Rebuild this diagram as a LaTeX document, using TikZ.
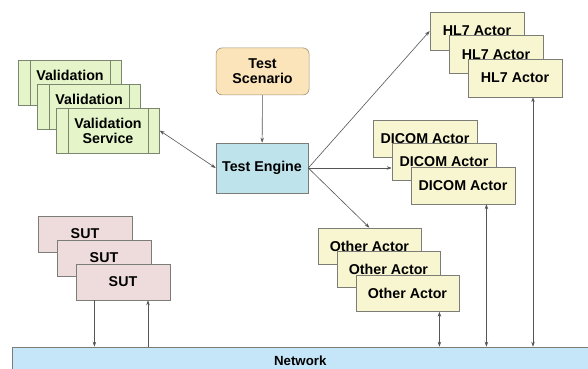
\documentclass[tikz,border=0pt]{standalone}
\usepackage{fontspec}
\setmainfont{Liberation Sans}
\usetikzlibrary{arrows.meta}
\definecolor{valgreen}{RGB}{229,245,201}
\definecolor{valedge}{RGB}{120,135,110}
\definecolor{scengold}{RGB}{252,228,186}
\definecolor{scenedge}{RGB}{160,145,115}
\definecolor{engteal}{RGB}{190,227,234}
\definecolor{actoryellow}{RGB}{248,246,208}
\definecolor{sutpink}{RGB}{238,220,220}
\definecolor{netblue}{RGB}{196,230,248}
\definecolor{boxgray}{RGB}{125,125,120}
\definecolor{linkgray}{RGB}{85,85,85}

\begin{document}
\begin{tikzpicture}[
    box/.style={draw=boxgray, line width=0.6pt, inner sep=0pt, align=center, font=\fontsize{14.2}{15}\selectfont\bfseries},
    valbox/.style={box, fill=valgreen, draw=valedge, minimum width=3.6cm, minimum height=1.575cm,
        path picture={\draw[valedge, line width=0.6pt]
            ([xshift=0.4cm]path picture bounding box.north west) -- ([xshift=0.4cm]path picture bounding box.south west)
            ([xshift=-0.4cm]path picture bounding box.north east) -- ([xshift=-0.4cm]path picture bounding box.south east);}},
    hlbox/.style={box, fill=actoryellow, minimum width=3.29cm, minimum height=1.33cm},
    dicombox/.style={box, fill=actoryellow, minimum width=3.64cm, minimum height=1.295cm},
    otherbox/.style={box, fill=actoryellow, minimum width=3.6cm, minimum height=1.26cm},
    sutbox/.style={box, fill=sutpink, minimum width=3.29cm, minimum height=1.26cm},
    link/.style={draw=linkgray, line width=0.6pt, >={Stealth[length=5pt,width=3.5pt]}}
]
\useasboundingbox (0,0) rectangle (20.58,-12.915);

% validation services
\node[valbox] (val1) at (2.45,-2.89) {Validation\\\mbox{}};
\node[valbox] (val2) at (3.12,-3.73) {Validation\\\mbox{}};
\node[valbox] (val3) at (3.78,-4.57) {Validation\\Service};

% scenario and engine
\node[box, fill=scengold, draw=scenedge, rounded corners=6pt, minimum width=3.255cm, minimum height=1.645cm] (scen) at (9.19,-2.5) {Test\\Scenario};
\node[box, fill=engteal, minimum width=3.22cm, minimum height=1.75cm] (eng) at (9.17,-5.88) {Test Engine};

% actors
\node[hlbox] (hl1) at (16.695,-1.085) {HL7 Actor};
\node[hlbox] (hl2) at (17.36,-1.905) {HL7 Actor};
\node[hlbox] (hl3) at (18.025,-2.725) {HL7 Actor};

\node[dicombox] (dc1) at (14.875,-4.85) {DICOM Actor};
\node[dicombox] (dc2) at (15.54,-5.67) {DICOM Actor};
\node[dicombox] (dc3) at (16.205,-6.49) {DICOM Actor};

\node[otherbox] (ot1) at (12.93,-8.61) {Other Actor};
\node[otherbox] (ot2) at (13.595,-9.44) {Other Actor};
\node[otherbox] (ot3) at (14.26,-10.27) {Other Actor};

% systems under test
\node[sutbox] (sut1) at (2.975,-8.19) {SUT};
\node[sutbox] (sut2) at (3.64,-9.03) {SUT};
\node[sutbox] (sut3) at (4.305,-9.87) {SUT};

% network
\node[box, fill=netblue, minimum width=20.18cm, minimum height=0.98cm, font=\fontsize{13.2}{14}\selectfont\bfseries] (net) at (10.51,-12.635) {Network};

% connectors
\draw[link, ->] (scen) -- (eng);
\draw[link, <->] (val3.east) -- (eng.west);
\draw[link, ->] (eng.east) -- (hl1.west);
\draw[link, ->] (eng.east) -- (eng.east -| dc2.west);
\draw[link, ->] (eng.east) -- (ot1.north);

\draw[link, ->] ([xshift=-1cm]sut3.south) -- ([xshift=-1cm]sut3.south |- net.north);
\draw[link, <-] ([xshift=0.875cm]sut3.south) -- ([xshift=0.875cm]sut3.south |- net.north);
\draw[link, <->] ([xshift=1.12cm]ot3.south) -- ([xshift=1.12cm]ot3.south |- net.north);
\draw[link, <->] ([xshift=0.82cm]dc3.south) -- ([xshift=0.82cm]dc3.south |- net.north);
\draw[link, <->] ([xshift=0.63cm]hl3.south) -- ([xshift=0.63cm]hl3.south |- net.north);

\end{tikzpicture}
\end{document}
